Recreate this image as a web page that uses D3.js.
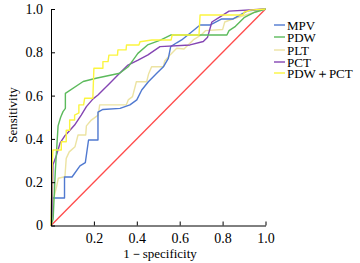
<!DOCTYPE html>
<html><head><meta charset="utf-8">
<script src="https://cdn.jsdelivr.net/npm/d3@7/dist/d3.min.js"></script>
<style>body{margin:0;background:#fff}svg{display:block}</style>
</head><body><div id="c"></div>
<script>
const seriesNames = ["MPV","PDW","PLT","PCT","PDW＋PCT"];
const xTicks = [0,0.2,0.4,0.6,0.8,1.0];
const yTicks = [0,0.2,0.4,0.6,0.8,1.0];
const tickLabels = ["0","0.2","0.4","0.6","0.8","1.0"];
const mpvX = [0,0.003,0.063,0.063,0.098,0.135,0.16,0.175,0.219,0.219,0.242,0.322,0.368,0.40,0.423,0.454,0.493,0.524,0.547,0.558,0.586,0.609,0.648,0.695,0.741,0.796,0.849,0.918,1];
const mpvY = [0,0.127,0.127,0.224,0.224,0.275,0.29,0.395,0.395,0.524,0.536,0.541,0.557,0.58,0.626,0.664,0.703,0.733,0.772,0.826,0.844,0.857,0.888,0.926,0.926,0.954,0.954,0.992,1];
const pdwX = [0,0.01,0.02,0.033,0.045,0.056,0.067,0.067,0.15,0.21,0.32,0.36,0.405,0.45,0.51,0.56,0.82,0.83,0.86,0.88,0.90,0.92,0.95,1];
const pdwY = [0,0.03,0.25,0.46,0.50,0.526,0.541,0.61,0.665,0.68,0.703,0.733,0.795,0.834,0.856,0.88,0.88,0.90,0.92,0.94,0.96,0.97,0.985,1];
const pltX = [0,0.006,0.011,0.026,0.034,0.065,0.071,0.085,0.112,0.126,0.162,0.165,0.188,0.22,0.227,0.351,0.36,0.38,0.398,0.446,0.455,0.469,0.524,0.53,0.555,0.586,0.62,0.663,0.70,0.72,0.80,0.81,0.85,0.9,0.95,1];
const pltY = [0,0.05,0.118,0.18,0.218,0.225,0.31,0.34,0.364,0.418,0.418,0.46,0.487,0.51,0.557,0.557,0.58,0.595,0.664,0.664,0.70,0.733,0.733,0.76,0.788,0.819,0.815,0.857,0.88,0.90,0.905,0.94,0.955,0.97,0.985,1];
const pctX = [0,0.004,0.009,0.026,0.042,0.065,0.079,0.11,0.141,0.165,0.196,0.219,0.281,0.32,0.359,0.406,0.452,0.508,0.648,0.71,0.73,0.75,0.79,0.83,1];
const pctY = [0,0.04,0.28,0.326,0.38,0.415,0.43,0.464,0.51,0.549,0.585,0.603,0.664,0.703,0.741,0.764,0.788,0.826,0.834,0.85,0.87,0.94,0.965,0.99,1];
const comboX = [0,0.003,0.005,0.009,0.048,0.048,0.071,0.071,0.087,0.087,0.11,0.11,0.13,0.13,0.152,0.157,0.195,0.2,0.242,0.242,0.266,0.27,0.31,0.312,0.35,0.352,0.41,0.415,0.47,0.56,0.565,0.69,0.695,0.895,0.9,0.93,1];
const comboY = [0,0.15,0.27,0.349,0.349,0.387,0.387,0.44,0.44,0.487,0.487,0.51,0.52,0.557,0.557,0.588,0.588,0.726,0.726,0.757,0.757,0.787,0.787,0.811,0.811,0.834,0.834,0.849,0.857,0.857,0.88,0.88,0.972,0.972,0.985,0.995,1];
const colors = ["#5079d0","#5cba5c","#ece3a2","#8445b3","#fbf53f"];
const diagColor = "#ff4b4b";
const serif = "'Liberation Serif','DejaVu Serif',serif";

const W=360,H=263;
const svg=d3.select("#c").append("svg").attr("width",W).attr("height",H).attr("font-family",serif);
const x=d3.scaleLinear().domain([0,1]).range([51,265.5]);
const y=d3.scaleLinear().domain([0,1]).range([225.5,9]);

const xs=[mpvX,pdwX,pltX,pctX,comboX], ys=[mpvY,pdwY,pltY,pctY,comboY];
const line=d3.line().x(d=>x(d[0])).y(d=>y(d[1]));

svg.append("path").attr("d",line([[0,0],[1,1]])).attr("fill","none").attr("stroke",diagColor).attr("stroke-width",1.3);
[2,0,3,1,4].forEach(i=>{
  const pts=xs[i].map((v,j)=>[v,ys[i][j]]);
  svg.append("path").attr("d",line(pts)).attr("fill","none").attr("stroke",colors[i]).attr("stroke-width",1.4).attr("stroke-linejoin","round");
});

const xAxis=d3.axisBottom(x).tickValues(xTicks).tickSizeInner(-4).tickSizeOuter(0).tickPadding(8)
  .tickFormat((d,i)=>i===0?"":tickLabels[i]);
const gx=svg.append("g").attr("transform","translate(0,225.5)").call(xAxis);
const yAxis=d3.axisLeft(y).tickValues(yTicks).tickSizeInner(-4).tickSizeOuter(0).tickPadding(8)
  .tickFormat((d,i)=>tickLabels[i]);
const gy=svg.append("g").attr("transform","translate(51,0)").call(yAxis);
[gx,gy].forEach(g=>{g.attr("font-family",serif).attr("font-size",14);
  g.selectAll("text").attr("fill","#000").style("font-family",serif);
  g.select(".domain").attr("stroke","#000");g.selectAll("line").attr("stroke","#000");});

svg.append("text").attr("x",160).attr("y",258).attr("text-anchor","middle").attr("font-size",13).style("font-family",serif).text("1－specificity");
svg.append("text").attr("transform","translate(17,115) rotate(-90)").attr("text-anchor","middle").attr("font-size",13).style("font-family",serif).text("Sensitivity");

const leg=svg.append("g");
const ly=[25,37,50,62,73];
seriesNames.forEach((n,i)=>{
  leg.append("line").attr("x1",274).attr("x2",285).attr("y1",ly[i]).attr("y2",ly[i]).attr("stroke",colors[i]).attr("stroke-width",1.4);
  leg.append("text").attr("x",287).attr("y",ly[i]+4.5).attr("font-size",13).style("font-family",serif).text(n);
});
</script></body></html>
